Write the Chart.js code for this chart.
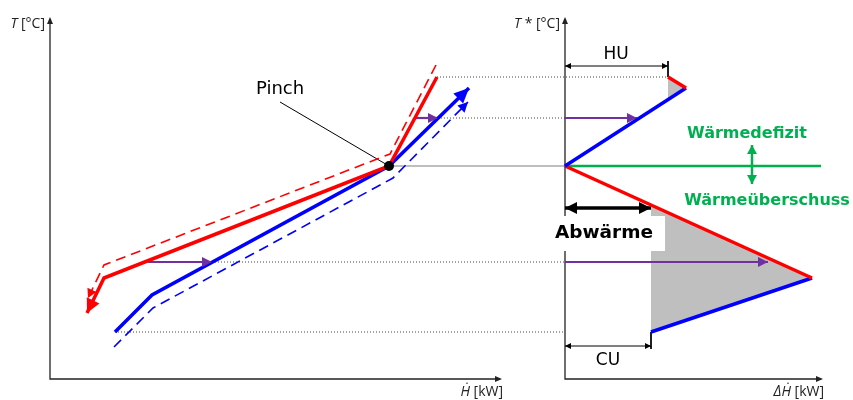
<!DOCTYPE html>
<html>
<head>
<meta charset="utf-8">
<script src="https://cdn.jsdelivr.net/npm/chart.js@4/dist/chart.umd.min.js"></script>
<style>
  body { margin: 0; background: #fff; }
  #wrap { position: relative; width: 853px; height: 400px; }
  #wrap canvas { position: absolute; left: 0; top: 0; }
</style>
</head>
<body>
<div id="wrap">
  <canvas id="left" width="853" height="400"></canvas>
  <canvas id="right" width="853" height="400"></canvas>
</div>
<script>
// Composite curves (left), arbitrary units
const hotH = [387, 339, 54, 37];
const hotT = [302, 213, 101, 66];
const hotShiftH = [386, 340, 54, 38];
const hotShiftT = [314, 225, 114, 81];
const coldH = [65, 102, 339, 419];
const coldT = [47, 84, 213, 291];
const coldShiftH = [64, 103, 343, 418];
const coldShiftT = [32, 71, 201, 277];
const pinchH = 339, pinchT = 213;

// heat transfer arrows (purple) on the composite curves
const transferLeftH = [[98, 162], [366, 388]];
const transferT = [117, 261];

// dotted guide lines to the grand composite curve
const guideT = [302, 261, 213, 117, 47];
const guideStartH = [387, 388, 339, 162, 65];
const guideEndH = [618, 515, 515, 515, 515];

// Grand composite curve (right)
const gccTopRedH = [103, 121], gccTopRedT = [302, 291];
const gccTopBlueH = [121, 0], gccTopBlueT = [291, 213];
const gccLowRedH = [0, 247], gccLowRedT = [213, 101];
const gccLowBlueH = [247, 86], gccLowBlueT = [101, 47];
const pocketTopH = [103, 121, 103], pocketTopT = [302, 291, 280];
const pocketLowH = [86, 247, 86], pocketLowT = [174, 101, 47];
const transferRightH = [[0, 72], [0, 203]];
const huH = [0, 103], huT = 313;
const cuH = [0, 86], cuT = 33;
const wasteH = [0, 86], wasteT = 171;

const RED = '#ff0000', BLUE = '#0000ff', PURPLE = '#7030a0', GREEN = '#00b050', GREY = '#bfbfbf';

function pts(xs, ys) {
  return xs.map((x, i) => ({ x: x, y: Array.isArray(ys) ? ys[i] : ys }));
}

function line(xs, ys, color, width, extra) {
  return Object.assign({
    data: pts(xs, ys), showLine: true, borderColor: color, backgroundColor: color,
    borderWidth: width, pointRadius: 0, fill: false, clip: false, tension: 0
  }, extra || {});
}

function head(ctx, from, to, ds) {
  const a = Math.atan2(to.y - from.y, to.x - from.x);
  const len = ds.headLen || 10, w = ds.headWidth || 5;
  ctx.save();
  ctx.fillStyle = ds.borderColor;
  ctx.beginPath();
  ctx.moveTo(to.x, to.y);
  ctx.lineTo(to.x - len * Math.cos(a) + w * Math.sin(a), to.y - len * Math.sin(a) - w * Math.cos(a));
  ctx.lineTo(to.x - len * Math.cos(a) - w * Math.sin(a), to.y - len * Math.sin(a) + w * Math.cos(a));
  ctx.closePath();
  ctx.fill();
  ctx.restore();
}

const arrowPlugin = {
  id: 'arrows',
  afterDatasetsDraw(chart) {
    chart.data.datasets.forEach((ds, i) => {
      if (!ds.arrow) return;
      const p = chart.getDatasetMeta(i).data;
      const n = p.length;
      if (ds.arrow === 'end' || ds.arrow === 'both') head(chart.ctx, p[n - 2], p[n - 1], ds);
      if (ds.arrow === 'both') head(chart.ctx, p[1], p[0], ds);
    });
  }
};

function axesPlugin(xLabel, yLabel) {
  return {
    id: 'axes',
    beforeDatasetsDraw(chart) {
      const ctx = chart.ctx, a = chart.chartArea;
      ctx.save();
      ctx.strokeStyle = '#222';
      ctx.fillStyle = '#222';
      ctx.lineWidth = 1.3;
      ctx.beginPath();
      ctx.moveTo(a.left, a.top + 2);
      ctx.lineTo(a.left, a.bottom);
      ctx.lineTo(a.right - 2, a.bottom);
      ctx.stroke();
      head(ctx, { x: a.left, y: a.bottom }, { x: a.left, y: a.top }, { borderColor: '#222', headLen: 7, headWidth: 3 });
      head(ctx, { x: a.left, y: a.bottom }, { x: a.right, y: a.bottom }, { borderColor: '#222', headLen: 7, headWidth: 3 });
      ctx.textBaseline = 'alphabetic';
      drawParts(ctx, yLabel, a.left - 5, 28, 'right');
      drawParts(ctx, xLabel, a.right + 1, 396, 'right');
      ctx.restore();
    }
  };
}

function drawParts(ctx, parts, x, y, align) {
  let total = 0;
  parts.forEach(p => { ctx.font = p.font; total += ctx.measureText(p.text).width; });
  let cx = align === 'right' ? x - total : x;
  ctx.textAlign = 'left';
  parts.forEach(p => {
    ctx.font = p.font;
    ctx.fillText(p.text, cx, y);
    cx += ctx.measureText(p.text).width;
  });
}

function labelsPlugin(items) {
  return {
    id: 'labels',
    afterDatasetsDraw(chart) {
      const ctx = chart.ctx, sx = chart.scales.x, sy = chart.scales.y;
      ctx.save();
      items.forEach(it => {
        ctx.font = it.font;
        ctx.textAlign = it.align || 'center';
        ctx.textBaseline = 'alphabetic';
        const x = sx.getPixelForValue(it.x), y = sy.getPixelForValue(it.y);
        if (it.box) {
          const w = ctx.measureText(it.text).width;
          ctx.fillStyle = '#fff';
          ctx.fillRect(x - w / 2 - 12, y - 22, w + 24, 35);
        }
        ctx.fillStyle = it.color || '#000';
        ctx.fillText(it.text, x, y);
      });
      ctx.restore();
    }
  };
}

const IT = 'italic 14px "Open Sans"', NO = '14px "Open Sans"';

function baseOptions(pad, xMax) {
  return {
    responsive: false, animation: false, events: [],
    layout: { padding: pad },
    plugins: { legend: { display: false }, tooltip: { enabled: false } },
    scales: {
      x: { type: 'linear', min: 0, max: xMax, display: false },
      y: { type: 'linear', min: 0, max: 362, display: false }
    }
  };
}

// left: composite curves
const leftSets = [
  line([pinchH], [pinchT], '#000', 0, { showLine: false, pointRadius: 5, pointBackgroundColor: '#000' }),
  line(hotH, hotT, RED, 3.5, { arrow: 'end', headLen: 14, headWidth: 7 }),
  line(coldH, coldT, BLUE, 3.5, { arrow: 'end', headLen: 15, headWidth: 7 }),
  line(hotShiftH, hotShiftT, RED, 1.6, { borderDash: [10, 6], arrow: 'end', headLen: 9, headWidth: 5 }),
  line(coldShiftH, coldShiftT, BLUE, 1.6, { borderDash: [10, 6], arrow: 'end', headLen: 10, headWidth: 5 }),
  line([230, pinchH], [277, pinchT], '#000', 1)
];
transferLeftH.forEach((h, i) => leftSets.push(line(h, transferT[i], PURPLE, 2.2, { arrow: 'end', headLen: 10, headWidth: 5 })));
guideT.forEach((t, i) => leftSets.push(line([guideStartH[i], guideEndH[i]], t, i === 2 ? '#aaa' : '#444', i === 2 ? 1.6 : 1, { borderDash: i === 2 ? [] : [1, 2] })));

new Chart(document.getElementById('left'), {
  type: 'scatter',
  data: { datasets: leftSets },
  options: baseOptions({ left: 50, right: 351, top: 17, bottom: 21 }, 452),
  plugins: [
    axesPlugin([{ text: '\u1E22', font: IT }, { text: ' [kW]', font: NO }],
               [{ text: 'T', font: IT }, { text: ' [\u00B0C]', font: NO }]),
    arrowPlugin,
    labelsPlugin([{ text: 'Pinch', x: 206, y: 285, align: 'left', font: '18px "DejaVu Sans"' }])
  ]
});

// right: grand composite curve
const rightSets = [
  line(gccTopRedH, gccTopRedT, RED, 3.5),
  line(gccTopBlueH, gccTopBlueT, BLUE, 3.5),
  line(gccLowRedH, gccLowRedT, RED, 3.5),
  line(gccLowBlueH, gccLowBlueT, BLUE, 3.5),
  line([0, 256], pinchT, GREEN, 2.5),
  line([187, 187], [234, 195], GREEN, 2.5, { arrow: 'both', headLen: 9, headWidth: 5 }),
  line(wasteH, wasteT, '#000', 3.5, { arrow: 'both', headLen: 12, headWidth: 6 }),
  line(huH, huT, '#000', 1, { arrow: 'both', headLen: 6, headWidth: 3 }),
  line([103, 103], [318, 302], '#000', 1),
  line(cuH, cuT, '#000', 1, { arrow: 'both', headLen: 6, headWidth: 3 }),
  line([86, 86], [47, 30], '#000', 1)
];
transferRightH.forEach((h, i) => rightSets.push(line(h, transferT[1 - i], PURPLE, 2.2, { arrow: 'end', headLen: 10, headWidth: 5 })));
rightSets.push(line(pocketTopH, pocketTopT, GREY, 0, { fill: 'shape', backgroundColor: GREY }));
rightSets.push(line(pocketLowH, pocketLowT, GREY, 0, { fill: 'shape', backgroundColor: GREY }));

new Chart(document.getElementById('right'), {
  type: 'scatter',
  data: { datasets: rightSets },
  options: baseOptions({ left: 565, right: 30, top: 17, bottom: 21 }, 258),
  plugins: [
    axesPlugin([{ text: '\u0394\u1E22', font: IT }, { text: ' [kW]', font: NO }],
               [{ text: 'T', font: IT }, { text: ' * [\u00B0C]', font: NO }]),
    arrowPlugin,
    labelsPlugin([
      { text: 'HU', x: 51, y: 320, font: '17px "DejaVu Sans"' },
      { text: 'CU', x: 43, y: 14, font: '17px "DejaVu Sans"' },
      { text: 'Abw\u00E4rme', x: 39, y: 141, font: 'bold 18.5px "DejaVu Sans"', box: true },
      { text: 'W\u00E4rmedefizit', x: 182, y: 241, font: 'bold 16px "DejaVu Sans"', color: GREEN },
      { text: 'W\u00E4rme\u00FCberschuss', x: 202, y: 174, font: 'bold 16px "DejaVu Sans"', color: GREEN }
    ])
  ]
});
</script>
</body>
</html>
